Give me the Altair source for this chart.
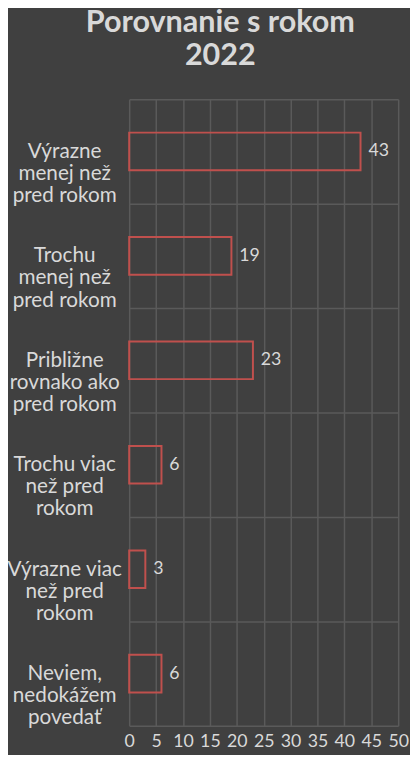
import altair as alt
import pandas as pd

categories = [
    "Výrazne|menej než|pred rokom",
    "Trochu|menej než|pred rokom",
    "Približne|rovnako ako|pred rokom",
    "Trochu viac|než pred|rokom",
    "Výrazne viac|než pred|rokom",
    "Neviem,|nedokážem|povedať",
]
values = [43, 19, 23, 6, 3, 6]
x_ticks = [0, 5, 10, 15, 20, 25, 30, 35, 40, 45, 50]

df = pd.DataFrame({"cat": categories, "val": values})

BG = "#404040"
TXT = "#d9d9d9"
GRID = "#5a5a5a"
RED = "#c0504d"
FONT = "Lato"

y_enc = alt.Y(
    "cat:N",
    sort=categories,
    scale=alt.Scale(paddingInner=0, paddingOuter=0),
    axis=alt.Axis(
        title=None,
        labelExpr="split(datum.label, '|')",
        labelAlign="center",
        labelPadding=66,
        labelFontSize=21,
        labelLineHeight=22.5,
        labelColor=TXT,
        labelFont=FONT,
        ticks=False,
        domain=False,
        grid=True,
        tickBand="extent",
        gridColor=GRID,
        gridWidth=1.5,
        labelLimit=200,
    ),
)

x_enc = alt.X(
    "val:Q",
    scale=alt.Scale(domain=[0, 50]),
    axis=alt.Axis(
        title=None,
        values=x_ticks,
        labelFontSize=18,
        labelColor=TXT,
        labelFont=FONT,
        labelPadding=7,
        labelOverlap=False,
        ticks=False,
        domain=False,
        grid=True,
        gridColor=GRID,
        gridWidth=1.5,
        labelFlush=False,
    ),
)

bars = alt.Chart(df).mark_bar(
    fill=BG, fillOpacity=0, stroke=RED, strokeWidth=2,
    height=alt.RelativeBandSize(band=0.36),
).encode(x=x_enc, y=y_enc)

labels = alt.Chart(df).mark_text(
    align="left", dx=8, fontSize=18, color=TXT, font=FONT, baseline="middle"
).encode(x=x_enc, y=y_enc, text="val:Q")

chart = (
    alt.layer(bars, labels)
    .properties(
        width=273,
        height=636,
        background=BG,
        autosize=alt.AutoSizeParams(type="none"),
        padding={"left": 123, "top": 87, "right": 12, "bottom": 24},
        title=alt.TitleParams(
            text=["Porovnanie s rokom", "2022"],
            fontSize=31,
            font=FONT,
            fontWeight="bold",
            color=TXT,
            anchor="middle",
            frame="group",
            lineHeight=33,
            offset=17,
            dx=-44,
        ),
    )
    .configure_view(stroke=None)
)

chart.save("out.html", embed_options={"renderer": "svg", "actions": False})
